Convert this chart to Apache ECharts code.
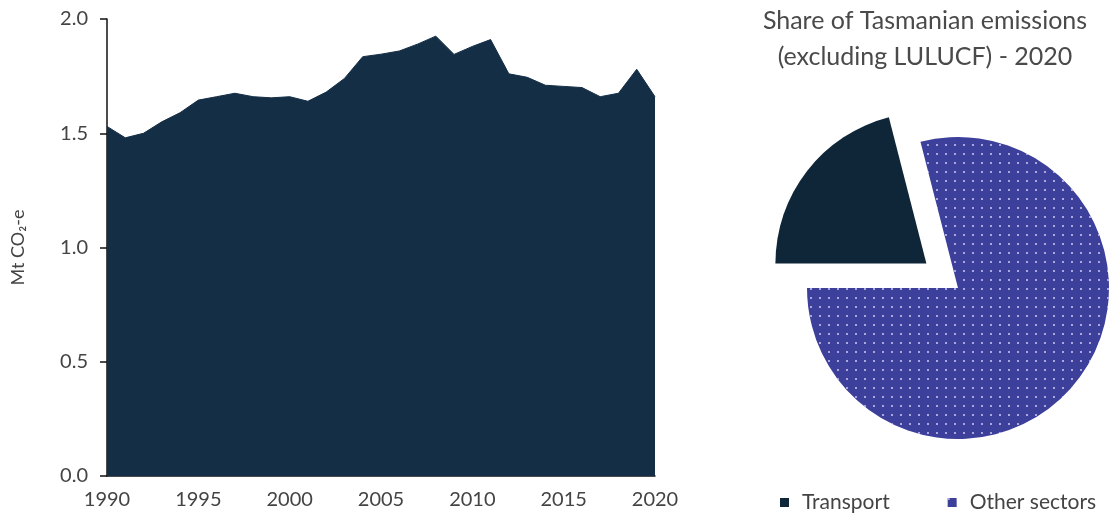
<!DOCTYPE html>
<html>
<head>
<meta charset="utf-8">
<script src="https://cdn.jsdelivr.net/npm/echarts@6/dist/echarts.min.js"></script>
<style>
  html, body { margin: 0; padding: 0; background: #ffffff; }
  #chart { width: 1116px; height: 518px; }
</style>
</head>
<body>
<div id="chart"></div>
<script>
// Tasmanian transport emissions, Mt CO2-e, 1990-2020
const years = [1990, 1991, 1992, 1993, 1994, 1995, 1996, 1997, 1998, 1999, 2000,
  2001, 2002, 2003, 2004, 2005, 2006, 2007, 2008, 2009, 2010,
  2011, 2012, 2013, 2014, 2015, 2016, 2017, 2018, 2019, 2020];
const transportEmissions = [1.53, 1.48, 1.50, 1.55, 1.59, 1.645, 1.66, 1.675, 1.66, 1.655, 1.66,
  1.64, 1.68, 1.74, 1.835, 1.846, 1.86, 1.89, 1.925, 1.845, 1.88,
  1.91, 1.76, 1.745, 1.71, 1.705, 1.70, 1.66, 1.675, 1.78, 1.66];
const yTicks = [0.0, 0.5, 1.0, 1.5, 2.0];

// Share of total state emissions in 2020 (percent)
const shareNames = ['Transport', 'Other sectors'];
const shareValues = [21, 79];

const navy = '#142e46';
const sliceNavy = '#0f2638';
const otherBlue = '#3d409b';
const font = 'Lato, "Open Sans", sans-serif';

const chart = echarts.init(document.getElementById('chart'), null, { renderer: 'canvas' });

chart.setOption({
  animation: false,
  backgroundColor: '#ffffff',
  title: {
    text: 'Share of Tasmanian emissions\n(excluding LULUCF) - 2020',
    left: 925,
    top: 3,
    padding: 0,
    textAlign: 'center',
    textStyle: { fontFamily: font, fontSize: 25, fontWeight: 'normal', color: '#4a4a4a', lineHeight: 36 }
  },
  legend: {
    data: shareNames,
    left: 780,
    top: 492,
    padding: 0,
    icon: 'rect',
    itemWidth: 9,
    itemHeight: 9,
    itemGap: 58,
    textStyle: { fontFamily: font, fontSize: 21, color: '#444444', padding: [0, 0, 0, 8] }
  },
  grid: { left: 107, right: 461, top: 19, bottom: 42 },
  xAxis: {
    type: 'value',
    min: 1990,
    max: 2020,
    interval: 5,
    axisLine: { show: true, onZero: false, lineStyle: { color: '#111111', width: 1.5 } },
    axisTick: { show: false },
    splitLine: { show: false },
    axisLabel: {
      formatter: v => String(v),
      fontFamily: font, fontSize: 20, color: '#444444', margin: 14
    }
  },
  yAxis: {
    type: 'value',
    min: yTicks[0],
    max: yTicks[yTicks.length - 1],
    interval: 0.5,
    name: 'Mt CO₂-e',
    nameLocation: 'middle',
    nameRotate: 90,
    nameGap: 80,
    nameTextStyle: { fontFamily: font, fontSize: 18, color: '#444444' },
    axisLine: { show: true, lineStyle: { color: '#111111', width: 1.5 } },
    axisTick: { show: true, length: 7, lineStyle: { color: '#111111', width: 1.5 } },
    splitLine: { show: false },
    axisLabel: {
      formatter: v => v.toFixed(1),
      fontFamily: font, fontSize: 20, color: '#444444', margin: 19
    }
  },
  series: [
    {
      type: 'line',
      data: years.map((y, i) => [y, transportEmissions[i]]),
      symbol: 'none',
      lineStyle: { width: 1, color: navy },
      areaStyle: { color: navy, opacity: 1 },
      z: 1
    },
    {
      type: 'pie',
      center: [958, 288],
      radius: 151,
      startAngle: 180,
      clockwise: true,
      selectedMode: 'single',
      selectedOffset: 40,
      label: { show: false },
      labelLine: { show: false },
      emphasis: { disabled: true },
      data: [
        {
          name: shareNames[0], value: shareValues[0], selected: true,
          itemStyle: { color: sliceNavy }
        },
        {
          name: shareNames[1], value: shareValues[1],
          itemStyle: {
            color: otherBlue,
            decal: {
              symbol: 'circle',
              symbolSize: 1,
              color: 'rgba(235,225,255,0.85)',
              dashArrayX: [2, 7],
              dashArrayY: [2, 7]
            }
          }
        }
      ]
    }
  ]
});
</script>
</body>
</html>
